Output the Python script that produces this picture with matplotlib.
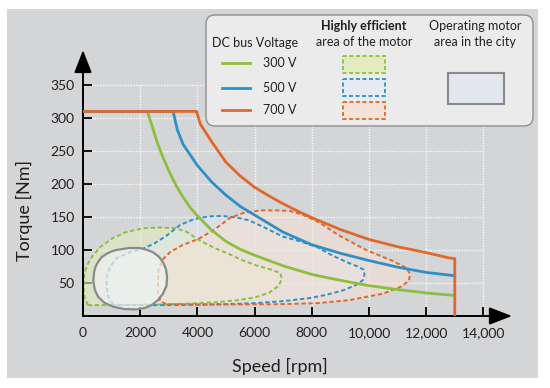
import matplotlib
matplotlib.use('Agg')
import numpy as np
import matplotlib.pyplot as plt
from matplotlib.patches import Polygon, Rectangle, FancyBboxPatch
from matplotlib.lines import Line2D
from matplotlib.transforms import Affine2D
from matplotlib.colors import to_rgba

plt.rcParams['font.family'] = ['Lato', 'DejaVu Sans']

# Torque/speed envelopes for each DC bus voltage
speed_300 = [0, 2250, 2400, 2600, 2800, 3000, 3250, 3500, 3750, 4000, 4500, 5000,
             5500, 6000, 7000, 8000, 9000, 10000, 11000, 12000, 13000]
torque_300 = [310, 310, 290, 262, 240, 220, 198, 180, 164, 152, 130, 113,
              101, 92, 76, 63, 54, 46, 40, 35, 31]

speed_500 = [0, 3150, 3300, 3500, 3750, 4000, 4500, 5000, 5500, 6000, 6500, 7000,
             8000, 9000, 10000, 11000, 12000, 13000]
torque_500 = [310, 310, 282, 260, 244, 228, 203, 183, 166, 153, 140, 127,
              108, 95, 84, 74, 66, 61]

speed_700 = [0, 3970, 4100, 4500, 5000, 5500, 6000, 6500, 7000, 7500, 8000, 9000,
             10000, 11000, 12000, 12800, 13000, 13000]
torque_700 = [310, 310, 291, 264, 233, 212, 195, 182, 170, 159, 149, 131,
              116, 105, 96, 88, 87, 0]

# Highly efficient areas (closed outlines)
eff_300_speed = [185, 60, 30, 40, 120, 300, 590, 1000, 1500, 2100, 2700, 3250, 3600,
                 4100, 4600, 5100, 5600, 6100, 6600, 6900, 6950, 6850, 6500, 6000,
                 5400, 4700, 3800, 2800, 1800, 900]
eff_300_torque = [16.5, 25, 40, 60, 75, 89, 104, 117, 127, 133, 134, 133, 128,
                  114, 103, 94, 84, 76, 70, 65, 57, 46, 35, 28, 24, 21, 19, 17.5, 17, 16.5]

eff_500_speed = [1050, 880, 820, 830, 950, 1200, 1650, 2100, 2500, 2900, 3400, 3900,
                 4400, 4900, 5400, 5800, 6300, 7000, 7600, 8200, 8700, 9200, 9600,
                 9820, 9840, 9780, 9500, 9100, 8500, 7900, 7000, 6000, 5000, 4000,
                 3000, 2000]
eff_500_torque = [17, 30, 45, 60, 75, 88, 97, 102, 110, 121, 138, 147,
                  151, 151.5, 149, 145, 135, 120, 113, 104, 92, 82, 75,
                  70, 62, 54, 46, 39, 32, 27, 22.5, 19.5, 18, 17, 16.5, 16.5]

eff_700_speed = [2900, 2700, 2630, 2620, 2640, 2800, 3050, 3500, 4050, 4600, 5150,
                 5600, 6200, 6800, 7250, 7700, 8250, 8950, 9900, 10800, 11300, 11430,
                 11400, 11150, 10500, 9900, 9300, 8200, 7000, 5500, 4000]
eff_700_torque = [18, 23, 32, 50, 70, 86, 97, 108, 117, 131, 149,
                  156, 160, 160, 159, 153, 142, 122, 100, 84, 73, 64,
                  54, 45, 34, 29, 24, 19.5, 18, 17.5, 17.5]

# Operating motor area in the city
city_speed = [820, 1000, 1170, 1600, 1990, 2250, 2450, 2650, 2800, 2900, 2940, 2920,
              2800, 2620, 2400, 2150, 1870, 1450, 1060, 750, 530, 410, 360, 390,
              450, 530, 650]
city_torque = [94, 98, 100, 103, 103, 100, 96.5, 90, 81.5, 71, 59, 46,
               34, 24, 16.5, 12, 10, 10.5, 14, 20, 29, 40, 54, 67,
               76, 82, 89]

x_ticks = [0, 2000, 4000, 6000, 8000, 10000, 12000, 14000]
x_tick_labels = ['0', '2000', '4000', '6000', '8000', '10,000', '12,000', '14,000']
y_ticks = [50, 100, 150, 200, 250, 300, 350]
voltage_labels = ['300 V', '500 V', '700 V']

green = '#8dbf3e'
blue = '#2f8fc6'
orange = '#e2672a'
ink = '#231f20'
dash = (0, (2.2, 1.4))

fig = plt.figure(figsize=(5.5, 3.88), dpi=100)
fig.patch.set_facecolor('white')
# pixel coordinates, origin top-left
px = Affine2D().scale(1 / 550, -1 / 388).translate(0, 1) + fig.transFigure
fig.patches.append(Rectangle((7, 9), 531, 369, transform=px, facecolor='#d4d5d7',
                             edgecolor='none', zorder=-1))

ax = fig.add_axes([83 / 550, 72 / 388, 429 / 550, 266 / 388])
ax.set_facecolor('none')
ax.set_xlim(0, 15000)
ax.set_ylim(0, 403)
for s in ax.spines.values():
    s.set_visible(False)

# dotted white grid, only up to the last ticks
ax.vlines(x_ticks[1:], 0, y_ticks[-1], colors='white', linestyles=(0, (1, 1)),
          lw=1.0, alpha=0.9, zorder=1)
ax.hlines(y_ticks, 0, x_ticks[-1], colors='white', linestyles=(0, (1, 1)),
          lw=1.0, alpha=0.9, zorder=1)

# efficient areas
regions = [(eff_300_speed, eff_300_torque, green, '#e2ecbe', 0.6),
           (eff_500_speed, eff_500_torque, blue, '#e4ecf6', 0.45),
           (eff_700_speed, eff_700_torque, orange, '#f8e2d4', 0.55)]
for sp, tq, col, fc, a in regions:
    ax.add_patch(Polygon(np.column_stack([sp, tq]), closed=True,
                         facecolor=to_rgba(fc, a), edgecolor='none', zorder=2))
for sp, tq, col, fc, a in regions:
    ax.add_patch(Polygon(np.column_stack([sp, tq]), closed=True, fill=False,
                         edgecolor=col, linestyle=dash, lw=1.4, zorder=3))

ax.add_patch(Polygon(np.column_stack([city_speed, city_torque]), closed=True,
                     facecolor=to_rgba('#f0f3f2', 0.7), edgecolor='#8a8a8a',
                     lw=1.6, zorder=4))

# torque envelopes
ax.plot(speed_300, torque_300, color=green, lw=2, zorder=5)
ax.plot(speed_500, torque_500, color=blue, lw=2, zorder=5)
ax.plot(speed_700, torque_700, color=orange, lw=2, zorder=5)

# axes with arrow heads
arrow = dict(arrowstyle='-|>,head_length=14,head_width=5.4', color='black',
             lw=1.4, shrinkA=0, shrinkB=0, mutation_scale=1)
ax.annotate('', xy=(1, 0), xytext=(0, 0), xycoords='axes fraction', arrowprops=arrow)
ax.annotate('', xy=(0, 1), xytext=(0, 0), xycoords='axes fraction', arrowprops=arrow)

ax.set_xticks(x_ticks)
ax.set_xticklabels(x_tick_labels)
ax.set_yticks(y_ticks)
ax.tick_params(direction='in', length=6.5, width=1.3, color='black',
               labelsize=10, labelcolor=ink)
ax.tick_params(axis='x', pad=8)
ax.tick_params(axis='y', pad=6)

ax.text(0.459, -0.2105, 'Speed [rpm]', transform=ax.transAxes, ha='center',
        va='baseline', fontsize=13, color=ink)
ax.text(-0.1235, 0.395, 'Torque [Nm]', transform=ax.transAxes, ha='center',
        va='baseline', rotation=90, rotation_mode='anchor', fontsize=13, color=ink)

# legend panel
fig.patches.append(FancyBboxPatch((206, 15), 327, 111, transform=px,
                                  boxstyle='round,pad=0,rounding_size=9',
                                  facecolor='#ebebeb', edgecolor='#8e8e8e', lw=1, zorder=3))
fig.text(255, 43, 'DC bus Voltage', transform=px, ha='center', va='center',
         fontsize=9, color=ink, zorder=4)
fig.text(364, 26, 'Highly efficient', transform=px, ha='center', va='center',
         fontsize=9, fontweight='bold', color=ink, zorder=4)
fig.text(364, 42, 'area of the motor', transform=px, ha='center', va='center',
         fontsize=9, color=ink, zorder=4)
fig.text(475, 26, 'Operating motor', transform=px, ha='center', va='center',
         fontsize=9, color=ink, zorder=4)
fig.text(475, 42, 'area in the city', transform=px, ha='center', va='center',
         fontsize=9, color=ink, zorder=4)

rows = [63, 88, 110]
box_rows = [56, 79, 102]
for (sp, tq, col, fc, a), lab, yr, yb in zip(regions, voltage_labels, rows, box_rows):
    fig.add_artist(Line2D([222, 250], [yr, yr], transform=px, color=col, lw=2, zorder=4))
    fig.text(263, yr, lab, transform=px, ha='left', va='center', fontsize=9,
             color=ink, zorder=4)
    fig.patches.append(Rectangle((343, yb), 42, 17, transform=px,
                                 facecolor=to_rgba(fc, 0.9), edgecolor=col,
                                 linestyle=dash, lw=1.3, zorder=4))
fig.patches.append(Rectangle((448, 73), 56, 31, transform=px, facecolor='#e4e8ee',
                             edgecolor='#8a8a8a', lw=1.5, zorder=4))

fig.savefig('out.png', dpi=100)
